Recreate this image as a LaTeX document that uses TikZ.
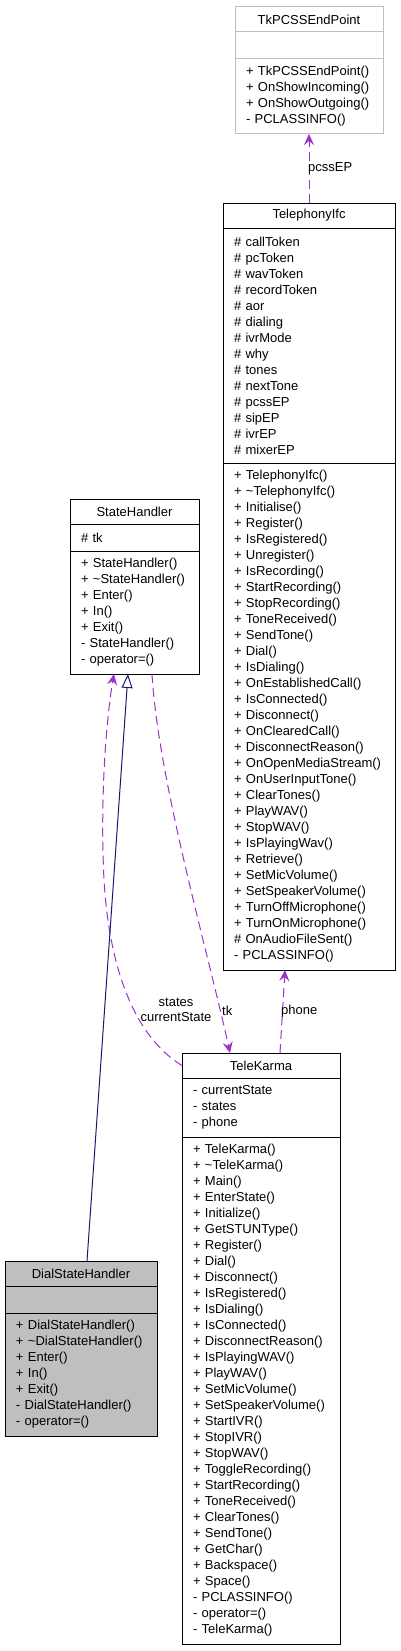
\documentclass[tikz,border=0pt]{standalone}
\usepackage{fontspec}
\setmainfont{Liberation Sans}
\usetikzlibrary{arrows.meta,calc}
\definecolor{usecol}{HTML}{9A32CD}
\definecolor{inhcol}{HTML}{191970}
\definecolor{boxgray}{HTML}{BFBFBF}
\newcommand{\tld}{\textasciitilde}
\begin{document}
\begin{tikzpicture}[x=1pt,y=-1pt,
  font=\fontsize{13}{16}\selectfont,
  comp/.style={draw=black, line width=1pt, anchor=north west, inner xsep=11pt, inner ysep=0pt, outer sep=0pt, align=left},
  ctitle/.style={comp, align=center},
  greyed/.style={draw=boxgray},
  shaded/.style={fill=boxgray},
  usage/.style={draw=usecol, line width=1pt, dash pattern=on 9pt off 5pt, -{Stealth[length=11pt,width=10pt,inset=4pt]}},
  inherit/.style={draw=inhcol, line width=1pt, -{Triangle[open,length=14pt,width=11pt]}},
  lbl/.style={inner sep=0pt, text=black}
]
\fill[white] (0,0) rectangle (401,1651);
\useasboundingbox (0,0) rectangle (401,1651);

% TkPCSSEndPoint
\node[ctitle, greyed, text width=126pt, minimum height=25pt] (tk-t) at (235,7) {TkPCSSEndPoint};
\node[comp, greyed, text width=126pt, minimum height=27pt] (tk-a) at (235,32) {};
\node[comp, greyed, text width=126pt, minimum height=75pt] (tk-m) at (235,59)
 {+ TkPCSSEndPoint()\\+ OnShowIncoming()\\+ OnShowOutgoing()\\- PCLASSINFO()};

% TelephonyIfc
\node[ctitle, text width=150pt, minimum height=25pt] (tel-t) at (223,203) {TelephonyIfc};
\node[comp, text width=150pt, minimum height=235pt] (tel-a) at (223,228)
 {\# callToken\\\# pcToken\\\# wavToken\\\# recordToken\\\# aor\\\# dialing\\\# ivrMode\\\# why\\\# tones\\\# nextTone\\\# pcssEP\\\# sipEP\\\# ivrEP\\\# mixerEP};
\node[comp, text width=150pt, minimum height=507pt] (tel-m) at (223,463)
 {+ TelephonyIfc()\\+ \tld TelephonyIfc()\\+ Initialise()\\+ Register()\\+ IsRegistered()\\+ Unregister()\\+ IsRecording()\\+ StartRecording()\\+ StopRecording()\\+ ToneReceived()\\+ SendTone()\\+ Dial()\\+ IsDialing()\\+ OnEstablishedCall()\\+ IsConnected()\\+ Disconnect()\\+ OnClearedCall()\\+ DisconnectReason()\\+ OnOpenMediaStream()\\+ OnUserInputTone()\\+ ClearTones()\\+ PlayWAV()\\+ StopWAV()\\+ IsPlayingWav()\\+ Retrieve()\\+ SetMicVolume()\\+ SetSpeakerVolume()\\+ TurnOffMicrophone()\\+ TurnOnMicrophone()\\\# OnAudioFileSent()\\- PCLASSINFO()};

% StateHandler
\node[ctitle, text width=107pt, minimum height=25pt] (sh-t) at (70,499) {StateHandler};
\node[comp, text width=107pt, minimum height=27pt] (sh-a) at (70,524) {\# tk};
\node[comp, text width=107pt, minimum height=123pt] (sh-m) at (70,551)
 {+ StateHandler()\\+ \tld StateHandler()\\+ Enter()\\+ In()\\+ Exit()\\- StateHandler()\\- operator=()};

% DialStateHandler
\node[ctitle, shaded, text width=130pt, minimum height=25pt] (dsh-t) at (5,1261) {DialStateHandler};
\node[comp, shaded, text width=130pt, minimum height=27pt] (dsh-a) at (5,1286) {};
\node[comp, shaded, text width=130pt, minimum height=123pt] (dsh-m) at (5,1313)
 {+ DialStateHandler()\\+ \tld DialStateHandler()\\+ Enter()\\+ In()\\+ Exit()\\- DialStateHandler()\\- operator=()};

% TeleKarma
\node[ctitle, text width=136pt, minimum height=25pt] (kar-t) at (182,1053) {TeleKarma};
\node[comp, text width=136pt, minimum height=59pt] (kar-a) at (182,1078)
 {- currentState\\- states\\- phone};
\node[comp, text width=136pt, minimum height=507pt] (kar-m) at (182,1137)
 {+ TeleKarma()\\+ \tld TeleKarma()\\+ Main()\\+ EnterState()\\+ Initialize()\\+ GetSTUNType()\\+ Register()\\+ Dial()\\+ Disconnect()\\+ IsRegistered()\\+ IsDialing()\\+ IsConnected()\\+ DisconnectReason()\\+ IsPlayingWAV()\\+ PlayWAV()\\+ SetMicVolume()\\+ SetSpeakerVolume()\\+ StartIVR()\\+ StopIVR()\\+ StopWAV()\\+ ToggleRecording()\\+ StartRecording()\\+ ToneReceived()\\+ ClearTones()\\+ SendTone()\\+ GetChar()\\+ Backspace()\\+ Space()\\- PCLASSINFO()\\- operator=()\\- TeleKarma()};

% connectors
\draw[usage] ($(tel-t.north west)+(86,0)$) -- ($(tk-m.south west)+(74,0)$);
\draw[usage] ($(kar-t.north west)+(98,0)$) -- ($(tel-m.south west)+(62,0)$);
\draw[usage] ($(sh-m.south west)+(82,0)$) .. controls (158,780) and (210,960) .. ($(kar-t.north west)+(48,0)$);
\draw[usage] (kar-t.west) .. controls (140,1040) and (110,980) .. (104,880)
   .. controls (100,800) and (106,720) .. ($(sh-m.south west)+(44,0)$);
\draw[inherit] ($(dsh-t.north west)+(82,0)$) -- ($(sh-m.south west)+(58,0)$);

% labels
\node[lbl, anchor=west] (l-pcss) at (308,168) {pcssEP};
\node[lbl, anchor=west] (l-phone) at (281,1011) {phone};
\node[lbl, anchor=west] (l-tk) at (222,1011) {tk};
\node[lbl, align=center, font=\fontsize{13}{15}\selectfont] (l-states) at (176,1010) {states\\currentState};
\end{tikzpicture}
\end{document}
